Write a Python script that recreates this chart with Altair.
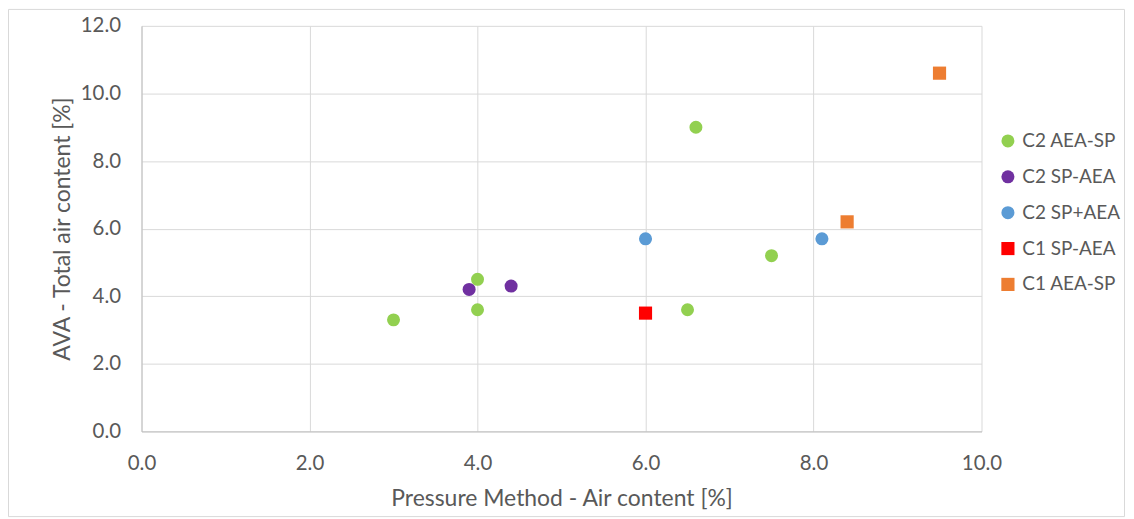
import altair as alt
import pandas as pd

# Series values
series_names = ["C2 AEA-SP", "C2 SP-AEA", "C2 SP+AEA", "C1 SP-AEA", "C1 AEA-SP"]
series_colors = ["#92D050", "#7030A0", "#5B9BD5", "#FF0000", "#ED7D31"]
series_shapes = ["circle", "circle", "circle", "square", "square"]
series_sizes = [170, 175, 130, 170, 190]

c2_aea_sp_x = [3.0, 4.0, 4.0, 6.5, 6.6, 7.5]
c2_aea_sp_y = [3.3, 4.5, 3.6, 3.6, 9.0, 5.2]
c2_sp_aea_x = [3.9, 4.4]
c2_sp_aea_y = [4.2, 4.3]
c2_sp_plus_aea_x = [6.0, 8.1]
c2_sp_plus_aea_y = [5.7, 5.7]
c1_sp_aea_x = [6.0]
c1_sp_aea_y = [3.5]
c1_aea_sp_x = [8.4, 9.5]
c1_aea_sp_y = [6.2, 10.6]

x_ticks = [0, 2, 4, 6, 8, 10]
y_ticks = [0, 2, 4, 6, 8, 10, 12]

xs = [c2_aea_sp_x, c2_sp_aea_x, c2_sp_plus_aea_x, c1_sp_aea_x, c1_aea_sp_x]
ys = [c2_aea_sp_y, c2_sp_aea_y, c2_sp_plus_aea_y, c1_sp_aea_y, c1_aea_sp_y]

rows = []
for i, name in enumerate(series_names):
    for xv, yv in zip(xs[i], ys[i]):
        rows.append({"series": name, "order": i, "pm": xv, "ava": yv})
df = pd.DataFrame(rows)

FONT = "Lato"
TEXT = "#595959"

points = alt.Chart(df).mark_point(filled=True, opacity=1, strokeWidth=0).encode(
    x=alt.X("pm:Q", title="Pressure Method - Air content [%]",
            scale=alt.Scale(domain=[0, 10], nice=False, zero=True),
            axis=alt.Axis(values=x_ticks, format=".1f", labelPadding=22,
                          titlePadding=14, labelFlush=False)),
    y=alt.Y("ava:Q", title="AVA - Total air content [%]",
            scale=alt.Scale(domain=[0, 12], nice=False, zero=True),
            axis=alt.Axis(values=y_ticks, format=".1f", labelPadding=21,
                          titlePadding=6, labelFlush=False)),
    color=alt.Color("series:N",
                    scale=alt.Scale(domain=series_names, range=series_colors),
                    legend=alt.Legend(title=None, orient="none", legendX=860,
                                      legendY=106, padding=0, rowPadding=16,
                                      labelOffset=5, symbolSize=110,
                                      labelFont=FONT, labelFontSize=19,
                                      labelColor=TEXT, symbolStrokeWidth=0)),
    shape=alt.Shape("series:N",
                    scale=alt.Scale(domain=series_names, range=series_shapes)),
    size=alt.Size("series:N",
                  scale=alt.Scale(domain=series_names, range=series_sizes),
                  legend=None),
    order=alt.Order("order:Q"),
)

frame = alt.Chart(alt.Data(values=[{"f": 1}])).mark_rect(
    fill="white", fillOpacity=0, stroke="#d9d9d9", strokeWidth=1, clip=False
).encode(
    x=alt.value(-133.5), x2=alt.value(986.5),
    y=alt.value(-16.5), y2=alt.value(492.5),
)

chart = alt.layer(frame, points).properties(
    width=843, height=407,
    padding={"left": 134, "top": 17, "right": 145, "bottom": 87},
    autosize=alt.AutoSizeParams(type="none"),
    background="white",
).configure_view(stroke=None).configure_axis(
    labelFont=FONT, labelFontSize=20.5, labelColor=TEXT,
    titleFont=FONT, titleFontSize=23, titleColor=TEXT, titleFontWeight="normal",
    gridColor="#d9d9d9", gridWidth=1, domainColor="#bfbfbf", domainWidth=1,
    ticks=False, tickSize=0,
)

chart.save("out.html", embed_options={"renderer": "svg", "actions": False})
